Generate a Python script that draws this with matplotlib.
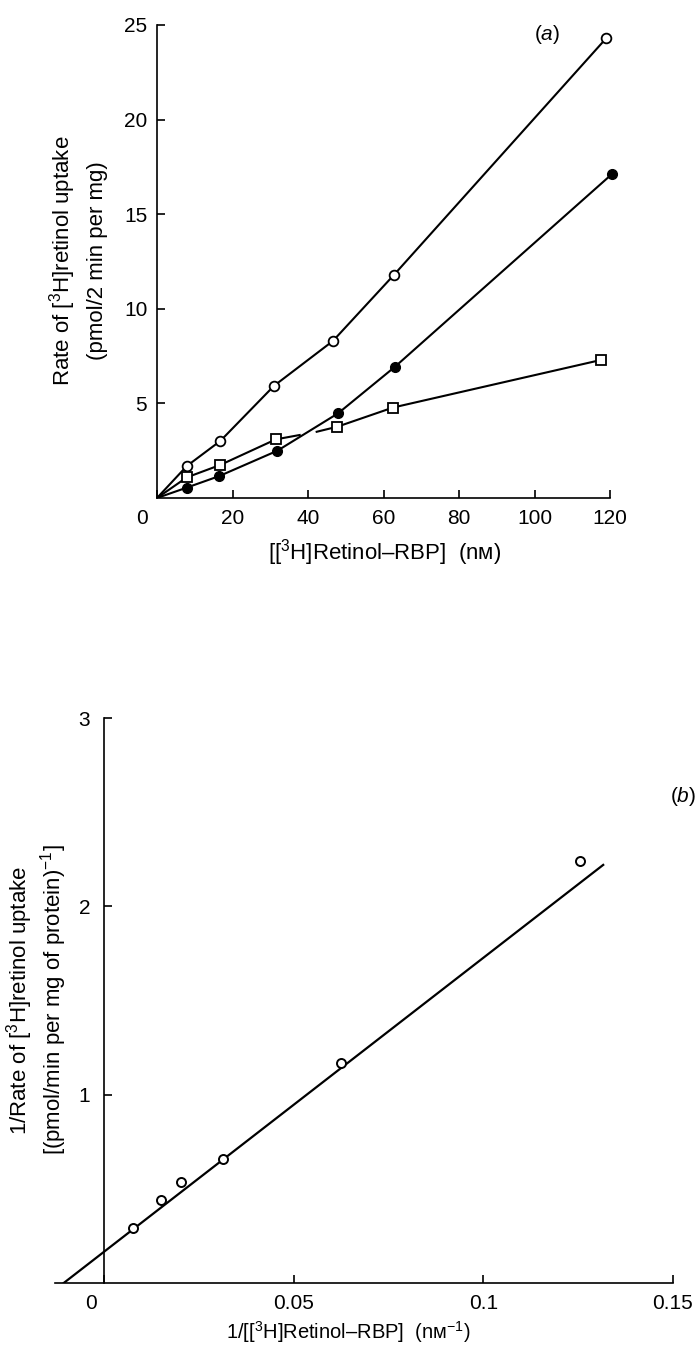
import matplotlib
matplotlib.use("Agg")
import matplotlib.pyplot as plt
import matplotlib.transforms as mtransforms

plt.rcParams['font.family'] = ['Liberation Sans', 'DejaVu Sans']
plt.rcParams['mathtext.fontset'] = 'custom'
plt.rcParams['mathtext.rm'] = 'Liberation Sans'
plt.rcParams['mathtext.it'] = 'Liberation Sans:italic'

# (a) rate vs concentration, three series
conc_open = [7.9, 16.8, 31.0, 46.6, 62.8, 119.0]
rate_open = [1.69, 3.02, 5.93, 8.3, 11.8, 24.3]
conc_filled = [7.9, 16.5, 31.9, 48.0, 63.0, 120.4]
rate_filled = [0.55, 1.16, 2.5, 4.48, 6.93, 17.1]
conc_square = [7.9, 16.8, 31.5, 47.8, 62.5, 117.7]
rate_square = [1.09, 1.75, 3.1, 3.77, 4.78, 7.3]
# square line is drawn in two pieces with a gap near 40 nM
sq_line1_x = [0, 7.9, 16.8, 31.5, 37.8]
sq_line1_y = [0, 1.09, 1.75, 3.1, 3.33]
sq_line2_x = [42.3, 47.8, 62.5, 117.7]
sq_line2_y = [3.5, 3.77, 4.78, 7.3]

xticks_a = [0, 20, 40, 60, 80, 100, 120]
yticks_a = [5, 10, 15, 20, 25]

# (b) double-reciprocal plot
inv_conc = [0.0077, 0.0151, 0.0204, 0.0315, 0.0625, 0.1255]
inv_rate = [0.29, 0.44, 0.535, 0.66, 1.17, 2.24]
fit_x = [-0.0106, 0.1316]
fit_y = [0.0, 2.22]

xticks_b = [0, 0.05, 0.1, 0.15]
xlabels_b = ['0', '0.05', '0.1', '0.15']
yticks_b = [1, 2, 3]

W, H = 697, 1345
fig = plt.figure(figsize=(W / 100, H / 100), dpi=100)


def px_axes(left, right, top, bottom):
    return fig.add_axes([left / W, 1 - bottom / H, (right - left) / W, (bottom - top) / H])


def px_text(x, y, s, size=16, rot=0):
    fig.text(x / W, 1 - y / H, s, fontsize=size, rotation=rot, ha='center', va='center')


def style(ax, pad_x, pad_y):
    for s in ['top', 'right']:
        ax.spines[s].set_visible(False)
    for s in ['left', 'bottom']:
        ax.spines[s].set_linewidth(1.2)
    ax.tick_params(direction='in', length=6, width=1.2, labelsize=15)
    ax.tick_params(axis='x', pad=pad_x)
    ax.tick_params(axis='y', pad=pad_y)
    ax.patch.set_alpha(0)


def shift_first_xlabel(ax, dx_pts):
    lab = ax.get_xticklabels()[0]
    off = mtransforms.ScaledTranslation(dx_pts / 72, 0, fig.dpi_scale_trans)
    lab.set_transform(lab.get_transform() + off)


# ---- panel (a)
ax1 = px_axes(157, 610, 25, 498)
ax1.set_xlim(0, 120)
ax1.set_ylim(0, 25)
style(ax1, 8, 7)
ax1.set_xticks(xticks_a)
ax1.set_yticks(yticks_a)
shift_first_xlabel(ax1, -11)

lw = 1.5
ax1.plot([0] + conc_open, [0] + rate_open, color='black', lw=lw, zorder=2)
ax1.plot([0] + conc_filled, [0] + rate_filled, color='black', lw=lw, zorder=2)
ax1.plot(sq_line1_x, sq_line1_y, color='black', lw=lw, zorder=2)
ax1.plot(sq_line2_x, sq_line2_y, color='black', lw=lw, zorder=2)
ax1.plot(conc_open, rate_open, 'o', ms=7, mfc='white', mec='black', mew=1.3, zorder=3, clip_on=False)
ax1.plot(conc_filled, rate_filled, 'o', ms=7, mfc='black', mec='black', zorder=3, clip_on=False)
ax1.plot(conc_square, rate_square, 's', ms=7.5, mfc='white', mec='black', mew=1.3, zorder=3, clip_on=False)

px_text(385, 553, r'[[$^{3}$H]Retinol–RBP]  (nм)')
px_text(63, 261, 'Rate of [$^{3}$H]retinol uptake', rot=90)
px_text(97, 261, '(pmol/2 min per mg)', rot=90)
px_text(547, 35, r'($\mathit{a}$)', size=15)

# ---- panel (b)
ax2 = px_axes(55, 673, 718, 1283)
ax2.set_xlim(-0.0129, 0.15)
ax2.set_ylim(0, 3)
style(ax2, 8, 10)
ax2.spines['left'].set_position(('data', 0))
ax2.set_xticks(xticks_b)
ax2.set_xticklabels(xlabels_b)
ax2.set_yticks(yticks_b)
shift_first_xlabel(ax2, -9)

ax2.plot(fit_x, fit_y, color='black', lw=1.6, zorder=2)
ax2.plot(inv_conc, inv_rate, 'o', ms=6.5, mfc='white', mec='black', mew=1.4, zorder=3, clip_on=False)

px_text(348, 1332, r'1/[[$^{3}$H]Retinol–RBP]  (nм$^{-1}$)', size=14.5)
px_text(20, 1000, '1/Rate of [$^{3}$H]retinol uptake', rot=90)
px_text(54, 1000, '[(pmol/min per mg of protein)$^{-1}$]', rot=90)
px_text(683, 797, r'($\mathit{b}$)', size=15)

fig.savefig('out.png', dpi=100)
